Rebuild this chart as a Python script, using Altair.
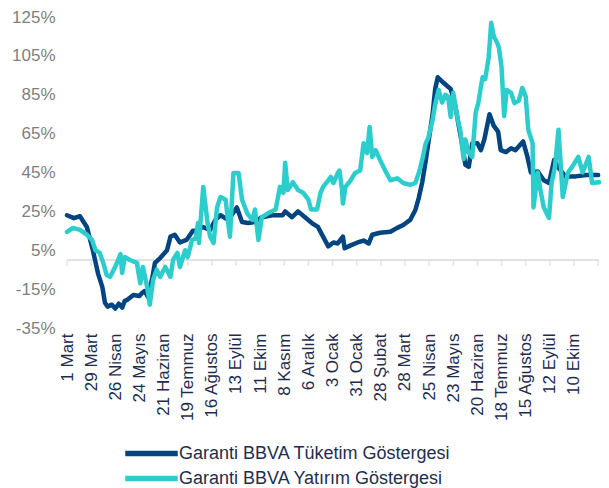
import altair as alt
import pandas as pd

START = pd.Timestamp("2020-03-01")
SERIES = ["Garanti BBVA Tüketim Göstergesi", "Garanti BBVA Yatırım Göstergesi"]
COLORS = ["#004481", "#2DCCCD"]

# Days since 1 Mart 2020 and index values (%)
tuk_days = [0, 8, 15, 23, 30, 36, 41, 44, 47, 52, 56, 60, 64, 67, 70, 77, 84, 87, 90, 94,
            99, 102, 108, 116, 120, 125, 131, 139, 146, 152, 157, 166, 172, 178, 187, 197,
            203, 210, 218, 226, 238, 250, 253, 261, 268, 276, 284, 291, 297, 303, 309, 314,
            320, 322, 329, 337, 344, 350, 354, 363, 375, 383, 390, 398, 404, 408, 412, 416,
            420, 424, 427, 430, 437, 445, 450, 454, 458, 462, 466, 470, 476, 480, 484, 490,
            495, 500, 503, 509, 515, 520, 529, 534, 538, 546, 553, 559, 565, 569, 578, 590,
            602, 616]
tuk_vals = [23, 21.5, 22.5, 17, 5, -7, -14, -22, -24, -23, -25, -22.5, -24.5, -21, -20.5, -18,
            -18.5, -17, -16, -19, -9, -1.5, 1, 5, 12, 13, 9, 10.5, 15, 15, 17, 15.5, 20.6, 23,
            20.6, 27, 19.5, 19, 19.5, 22, 23, 23, 25, 22, 25, 22, 19, 17, 12, 7, 9, 8.5, 12, 6,
            7.5, 9, 10, 8.5, 13, 14, 14.5, 16.5, 18, 20.6, 25.7, 32, 40, 51, 63, 75, 88, 94, 91,
            88, 80, 70, 60, 49, 48, 60, 60, 56.5, 62, 75, 69, 66, 56.5, 55.5, 57.5, 56.5, 61, 53,
            45, 45.5, 41, 39.6, 51.5, 48, 43, 43, 43.7, 43.7]

yat_days = [0, 7, 15, 23, 29, 33, 38, 42, 46, 50, 53, 58, 62, 64, 67, 73, 81, 85, 88, 93, 96,
            100, 104, 108, 114, 120, 123, 128, 131, 137, 140, 145, 149, 152, 153, 158, 163, 166,
            170, 174, 178, 184, 187, 189, 193, 199, 203, 209, 215, 218, 222, 226, 233, 242, 247,
            251, 253, 256, 262, 268, 274, 280, 283, 290, 294, 297, 303, 306, 309, 314, 316, 319,
            320, 323, 329, 334, 340, 344, 348, 351, 354, 358, 363, 369, 375, 383, 390, 398, 404,
            408, 412, 416, 419, 424, 427, 431, 435, 439, 442, 445, 448, 453, 456, 460, 462, 466,
            470, 474, 477, 480, 482, 485, 489, 492, 495, 499, 501, 504, 507, 510, 515, 519, 524,
            528, 532, 535, 540, 541, 546, 549, 553, 559, 562, 566, 570, 575, 581, 586, 593, 598,
            605, 609, 617]
yat_vals = [14.4, 16.5, 15.5, 13, 10.3, 5, 3.6, -1.5, -7.7, -8.7, -6, -1.5, 3, -6.7, 1.5, 0,
            -1.5, -12, -3.6, -14, -23, -10, -5, -8.7, -3.6, -8.7, 0, 3.6, -3.6, 5, 1.5, 10.3, 11,
            19, 8.7, 37.6, 19, 12, 8.7, 27, 32.4, 31, 19, 12, 44.7, 44.7, 31, 24, 20.6, 26, 10.3,
            22, 24, 26, 37.6, 34.5, 50, 36, 40, 36, 34.5, 31, 26, 26, 34.5, 37.6, 41, 42.7, 39.6,
            44.7, 46, 36, 29, 37.6, 41, 44.7, 46, 60, 55, 68.4, 53, 56.5, 51.5, 46, 41, 42, 39.6,
            38.6, 39.6, 44.7, 51.5, 60, 62.8, 72, 80, 87.5, 81, 85, 84, 73.6, 86, 72.5, 67, 52,
            62, 55, 53, 76, 80.7, 89, 94, 93, 104, 122, 115, 111.6, 109, 99, 74, 87.5, 86, 80.7,
            82, 88.5, 84, 67, 60, 27, 45, 36, 27, 21.6, 39.6, 48, 67, 32.4, 45, 48, 53, 45, 53,
            39.6, 40]

label_dates = [(2020, 3, 1), (2020, 3, 29), (2020, 4, 26), (2020, 5, 24), (2020, 6, 21),
               (2020, 7, 19), (2020, 8, 16), (2020, 9, 13), (2020, 10, 11), (2020, 11, 8),
               (2020, 12, 6), (2021, 1, 3), (2021, 1, 31), (2021, 2, 28), (2021, 3, 28),
               (2021, 4, 25), (2021, 5, 23), (2021, 6, 20), (2021, 7, 18), (2021, 8, 15),
               (2021, 9, 12), (2021, 10, 10)]
tick_dates = label_dates + [(2021, 11, 7)]
y_ticks = [-35, -15, 5, 25, 45, 65, 85, 105, 125]
domain_end = (2021, 11, 8)

rows = []
for d, v in zip(tuk_days, tuk_vals):
    rows.append({"date": START + pd.Timedelta(days=d), "value": v, "series": SERIES[0]})
for d, v in zip(yat_days, yat_vals):
    rows.append({"date": START + pd.Timedelta(days=d), "value": v, "series": SERIES[1]})
df = pd.DataFrame(rows)

ticks_df = pd.DataFrame({"date": [pd.Timestamp(year=y, month=m, day=dd) for y, m, dd in tick_dates],
                         "z": 0})
zero_df = pd.DataFrame({"z": [0]})

FONT = "Liberation Sans"
month_names = "['Ocak','Şubat','Mart','Nisan','Mayıs','Haziran','Temmuz','Ağustos','Eylül','Ekim','Kasım','Aralık']"

x_scale = alt.Scale(domain=[alt.DateTime(year=2020, month=3, date=1),
                            alt.DateTime(year=domain_end[0], month=domain_end[1], date=domain_end[2])])
y_scale = alt.Scale(domain=[-35, 125], nice=False, zero=False)

x_axis = alt.Axis(
    values=[alt.DateTime(year=y, month=m, date=dd) for y, m, dd in label_dates],
    labelExpr="date(datum.value) + ' ' + " + month_names + "[month(datum.value)]",
    labelAngle=-90, labelFont=FONT, labelFontSize=17, labelColor="#1f2d4d",
    labelPadding=5, labelOverlap=False, labelFlush=False, labelLimit=400,
    ticks=False, domain=False, grid=False, title=None,
)
y_axis = alt.Axis(
    values=y_ticks, labelExpr="datum.value + '%'", labelFont=FONT, labelFontSize=17,
    labelColor="#7f7f7f", labelPadding=12, labelOverlap=False, labelFlush=False,
    labelBound=False, ticks=False, domain=False, grid=False, title=None,
)

zero_rule = alt.Chart(zero_df).mark_rule(color="#d9d9d9", strokeWidth=1.5).encode(
    y=alt.Y("z:Q", scale=y_scale, axis=y_axis)
)
tick_marks = alt.Chart(ticks_df).mark_tick(color="#d9d9d9", thickness=1.5, size=6,
                                           orient="vertical", yOffset=3).encode(
    x=alt.X("date:T", scale=x_scale, axis=x_axis),
    y=alt.Y("z:Q", scale=y_scale, axis=y_axis),
)
lines = alt.Chart(df).mark_line(strokeWidth=4.5, strokeJoin="round", strokeCap="round").encode(
    x=alt.X("date:T", scale=x_scale, axis=x_axis),
    y=alt.Y("value:Q", scale=y_scale, axis=y_axis),
    color=alt.Color("series:N", scale=alt.Scale(domain=SERIES, range=COLORS),
                    legend=alt.Legend(orient="none", legendX=71, legendY=423, direction="vertical",
                                      title=None, padding=0, symbolType="M-2.5,0H2.5",
                                      symbolStrokeWidth=5.5, symbolSize=441,
                                      symbolFillColor="transparent",
                                      labelFont=FONT, labelFontSize=18, labelLimit=400,
                                      labelColor="#1f2d4d", labelOffset=14, rowPadding=0)),
    order=alt.Order("date:T"),
)

chart = alt.layer(zero_rule, tick_marks, lines).properties(
    width=532, height=311,
    autosize=alt.AutoSizeParams(type="none"),
    padding={"left": 59, "top": 9, "right": 2, "bottom": 160},
).configure_view(stroke=None).configure_axis(labelOverlap=False)

chart.save("out.html", embed_options={"renderer": "svg", "actions": False})
